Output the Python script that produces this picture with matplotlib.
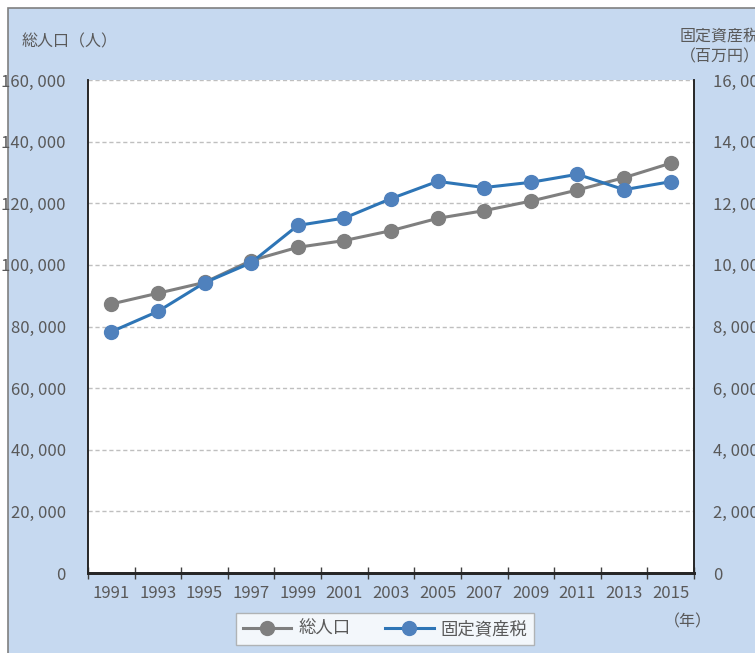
import matplotlib
matplotlib.use('Agg')
import matplotlib.pyplot as plt
import matplotlib.patches as mpatches
from matplotlib.lines import Line2D
import numpy as np

plt.rcParams['font.family'] = ['Noto Sans CJK JP', 'DejaVu Sans']

years = ['1991', '1993', '1995', '1997', '1999', '2001', '2003',
         '2005', '2007', '2009', '2011', '2013', '2015']
population = [87300, 90800, 94300, 101400, 105700, 107900, 111100,
              115100, 117600, 120700, 124300, 128300, 133000]
property_tax = [7830, 8490, 9420, 10070, 11280, 11520, 12150,
                12710, 12510, 12680, 12940, 12440, 12700]

pop_ticks = [0, 20000, 40000, 60000, 80000, 100000, 120000, 140000, 160000]
tax_ticks = [0, 2000, 4000, 6000, 8000, 10000, 12000, 14000, 16000]

BG = '#C6D9F0'
TXT = '#595959'
GRAY = '#7F7F7F'
BLUE_LINE = '#2E75B6'
BLUE_MARK = '#4F81BD'

W, H = 755, 653
fig = plt.figure(figsize=(W / 100, H / 100), dpi=100)
fig.patch.set_facecolor('white')

# blue panel with grey border (top/left visible)
panel = mpatches.Rectangle((8 / W, -0.05), 1.1, (H - 8) / H + 0.05,
                           transform=fig.transFigure, facecolor=BG,
                           edgecolor='#808080', linewidth=1.2, zorder=-10)
fig.patches.append(panel)

ax = fig.add_axes([88 / W, 80 / H, (694 - 88) / W, (573 - 80) / H])
ax.set_facecolor('white')
ax2 = ax.twinx()

x = np.arange(len(years))
ax.plot(x, population, color=GRAY, linewidth=2.2, marker='o',
        markersize=10, markerfacecolor=GRAY, markeredgecolor=GRAY, zorder=3)
ax2.plot(x, property_tax, color=BLUE_LINE, linewidth=2.2, marker='o',
         markersize=10, markerfacecolor=BLUE_MARK, markeredgecolor=BLUE_MARK, zorder=3)

ax.set_xlim(-0.5, len(years) - 0.5)
ax.set_ylim(0, 160000)
ax2.set_ylim(0, 16000)

ax.set_yticks(pop_ticks)
ax.set_yticklabels([f'{v:,}'.replace(',', ', ') for v in pop_ticks])
ax2.set_yticks(tax_ticks)
ax2.set_yticklabels([f'{v:,}'.replace(',', ', ') for v in tax_ticks])

ax.yaxis.grid(True, color='#BFBFBF', linestyle=(0, (3, 2)), linewidth=1.0)
ax.set_axisbelow(True)

# category boundaries carry the tick marks, centres carry the labels
ax.set_xticks(np.arange(-0.5, len(years), 1.0))
ax.set_xticklabels([])
ax.set_xticks(x, minor=True)
ax.set_xticklabels(years, minor=True)
ax.tick_params(axis='x', which='major', direction='inout', length=9,
               width=1.0, color='#404040')
ax.tick_params(axis='x', which='minor', length=0, pad=9, labelsize=12,
               labelcolor=TXT)
ax.tick_params(axis='y', length=0, pad=16, labelsize=12, labelcolor=TXT)
ax2.tick_params(axis='y', length=0, pad=14, labelsize=12, labelcolor=TXT)

for a in (ax, ax2):
    a.spines['top'].set_visible(False)
    a.spines['left'].set_color('#262626')
    a.spines['right'].set_color('#262626')
    a.spines['bottom'].set_color('#262626')
    a.spines['left'].set_linewidth(1.2)
    a.spines['right'].set_linewidth(1.2)
    a.spines['bottom'].set_linewidth(2.0)

fig.text(22 / W, 1 - 42 / H, '総人口（人）', fontsize=11.5, color=TXT,
         ha='left', va='center')
fig.text(680 / W, 1 - 36 / H, '固定資産税', fontsize=11.5, color=TXT,
         ha='left', va='center')
fig.text(680 / W, 1 - 57 / H, '（百万円）', fontsize=11.5, color=TXT,
         ha='left', va='center')
fig.text(664 / W, 1 - 622 / H, '（年）', fontsize=11.5, color=TXT,
         ha='left', va='center')

handles = [
    Line2D([], [], color=GRAY, linewidth=2.2, marker='o', markersize=10,
           markerfacecolor=GRAY, markeredgecolor=GRAY),
    Line2D([], [], color=BLUE_LINE, linewidth=2.2, marker='o', markersize=10,
           markerfacecolor=BLUE_MARK, markeredgecolor=BLUE_MARK),
]
leg = fig.legend(handles, ['総人口', '固定資産税'], loc='center',
                 bbox_to_anchor=(385 / W, 1 - 629 / H), ncol=2,
                 fontsize=12.5, frameon=True, fancybox=False,
                 edgecolor='#A6A6A6', facecolor='white', handlelength=2.8,
                 columnspacing=2.0, borderpad=0.4, handletextpad=0.4,
                 borderaxespad=0)
leg.get_frame().set_linewidth(1.0)
for t in leg.get_texts():
    t.set_color(TXT)

fig.savefig('out.png', dpi=100, facecolor=fig.get_facecolor())
